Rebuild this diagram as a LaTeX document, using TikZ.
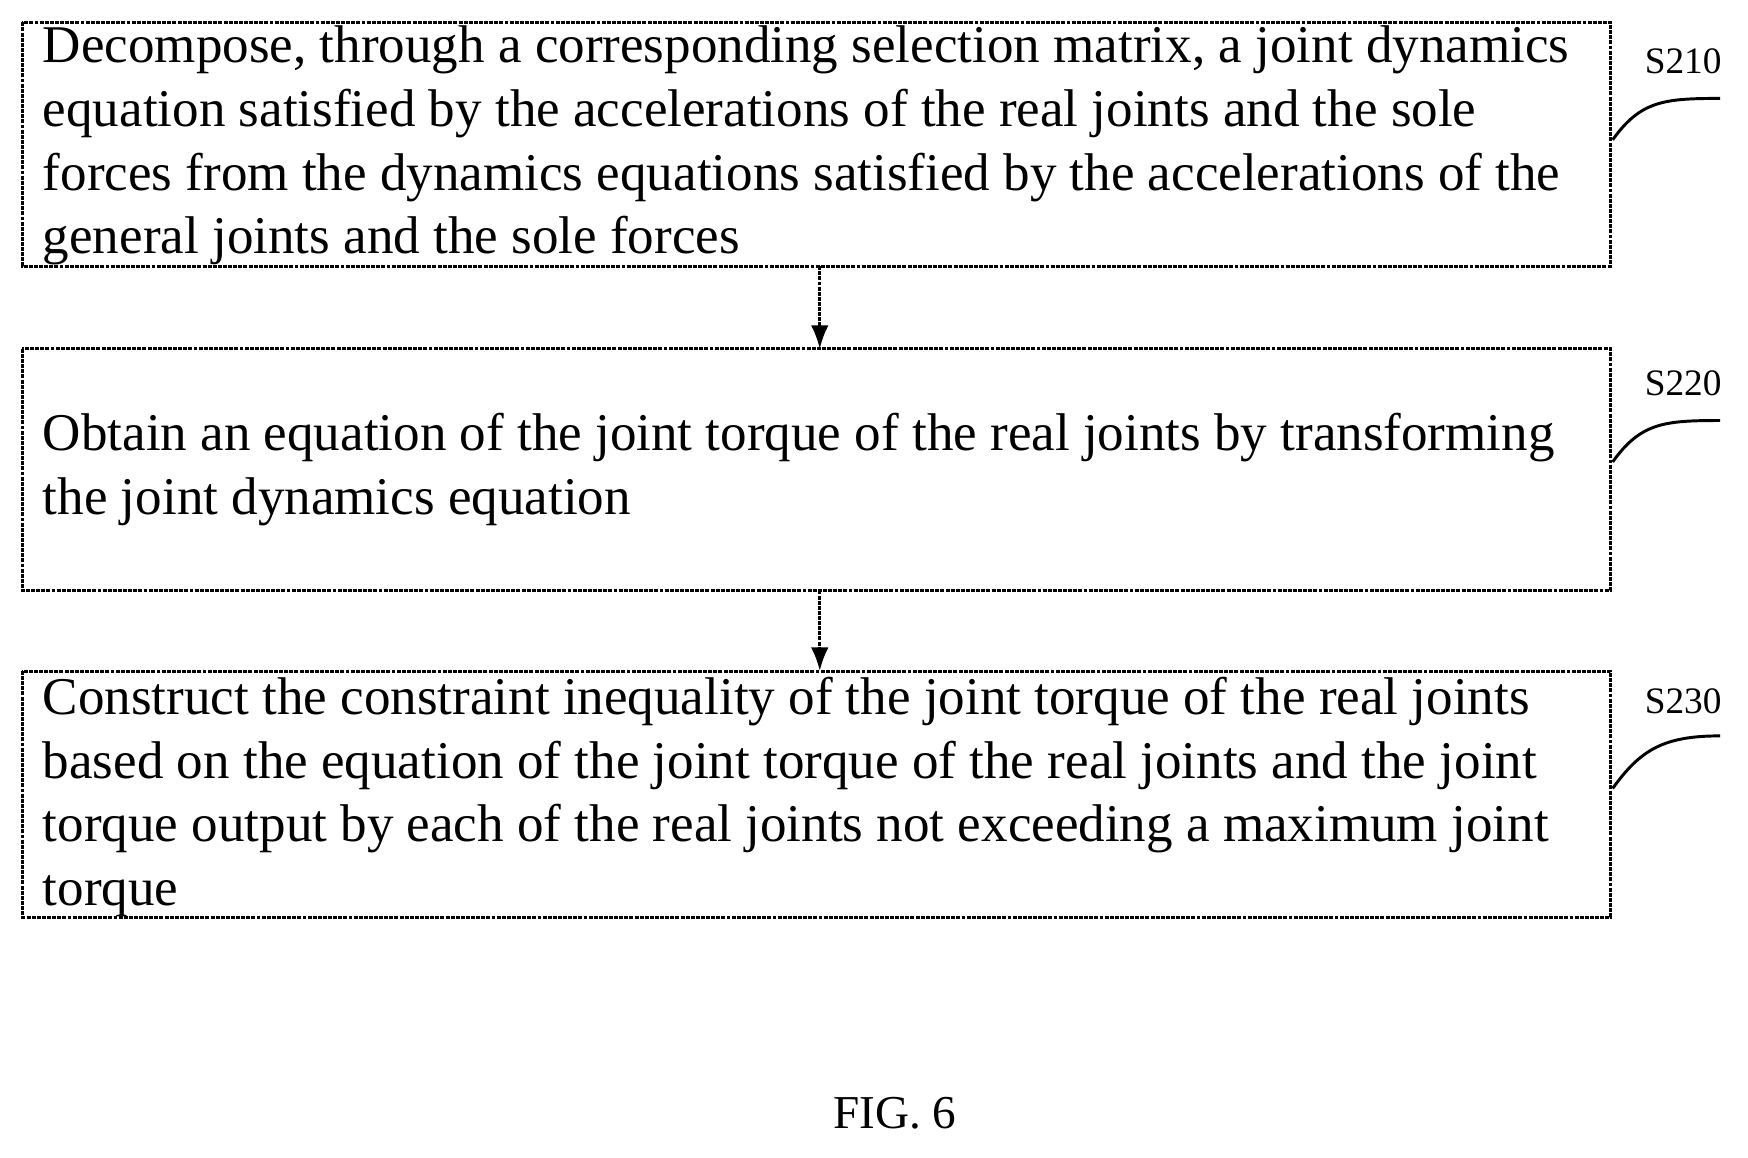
\documentclass[tikz,border=0pt]{standalone}
\usepackage{fontspec}
\setmainfont{Liberation Serif}
\usetikzlibrary{calc,arrows.meta}
\begin{document}
\begin{tikzpicture}[x=0.02cm,y=-0.02cm,
 box/.style={draw,line width=1.5pt,dash pattern=on 2pt off 0.6pt},
 txt/.style={anchor=north west,align=left,inner sep=0pt,font=\fontsize{27}{32.4}\selectfont},
 lab/.style={font=\fontsize{19}{20}\selectfont},
 arr/.style={-{Latex[length=12pt,width=9pt]},line width=1.5pt,dash pattern=on 2pt off 0.6pt}]
\useasboundingbox (0,0) rectangle (1563,1035);
\draw[box] (20,20) rectangle (1440,238);
\draw[box] (20,312) rectangle (1440,528);
\draw[box] (20,600) rectangle (1440,820);
\node[txt] (t1) at (38,23) {Decompose, through a corresponding selection matrix, a joint dynamics\\equation satisfied by the accelerations of the real joints and the sole\\forces from the dynamics equations satisfied by the accelerations of the\\general joints and the sole forces};
\node[txt] (t2) at (38,369) {Obtain an equation of the joint torque of the real joints by transforming\\the joint dynamics equation};
\node[txt] (t3) at (38,605) {Construct the constraint inequality of the joint torque of the real joints\\based on the equation of the joint torque of the real joints and the joint\\torque output by each of the real joints not exceeding a maximum joint\\torque};
\coordinate (a1s) at (733,238); \coordinate (a1e) at (733,312);
\coordinate (a2s) at (733,528); \coordinate (a2e) at (733,600);
\draw[arr] (a1s) -- (a1e);
\draw[arr] (a2s) -- (a2e);
\node[lab] (l1) at (1505,55) {S210};
\node[lab] (l2) at (1505,343) {S220};
\node[lab] (l3) at (1505,627) {S230};
\coordinate (c1) at (1442,125); \coordinate (d1) at (1538,88);
\coordinate (c2) at (1442,413); \coordinate (d2) at (1538,376);
\coordinate (c3) at (1442,705); \coordinate (d3) at (1538,658);
\foreach \i in {1,2,3}{\draw[line width=1.5pt] (c\i) .. controls ($(c\i)+(25,-35)$) and ($(d\i)+(-50,0)$) .. (d\i);}
\node[font=\fontsize{24}{26}\selectfont] (fig) at (800,995) {FIG. 6};
\end{tikzpicture}
\end{document}
